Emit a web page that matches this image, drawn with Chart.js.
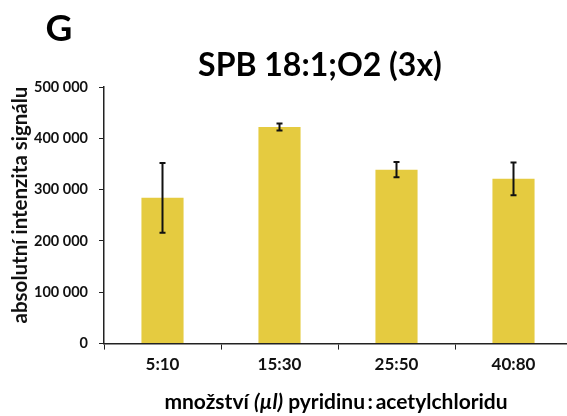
<!DOCTYPE html>
<html>
<head>
<meta charset="utf-8">
<script src="https://cdn.jsdelivr.net/npm/chart.js@4"></script>
<style>
  html, body { margin: 0; padding: 0; background: #fff; overflow: hidden; }
  #wrap { width: 572px; height: 416px; }
</style>
</head>
<body>
<div id="wrap"><canvas id="chart"></canvas></div>
<script>
const categories = ["5:10", "15:30", "25:50", "40:80"];
const values = [284000, 422000, 339000, 321000];
const errors = [68000, 7000, 15000, 32000];
const yTicks = [0, 100000, 200000, 300000, 400000, 500000];

const FONT = "Lato, 'Open Sans', sans-serif";

function fmt(v) {
  return String(v).replace(/\B(?=(\d{3})+(?!\d))/g, " ");
}

// error bars on top of each bar
const errorBars = {
  id: "errorBars",
  afterDatasetsDraw(chart) {
    const ctx = chart.ctx;
    const y = chart.scales.y;
    const meta = chart.getDatasetMeta(0);
    ctx.save();
    ctx.strokeStyle = "#111";
    ctx.lineWidth = 2;
    meta.data.forEach((bar, i) => {
      const top = y.getPixelForValue(values[i] + errors[i]);
      const bot = y.getPixelForValue(values[i] - errors[i]);
      ctx.beginPath();
      ctx.moveTo(bar.x, top);
      ctx.lineTo(bar.x, bot);
      ctx.moveTo(bar.x - 3, top);
      ctx.lineTo(bar.x + 3, top);
      ctx.moveTo(bar.x - 3, bot);
      ctx.lineTo(bar.x + 3, bot);
      ctx.stroke();
    });
    ctx.restore();
  }
};

// panel letter, titles (x title has an italic part)
const texts = {
  id: "texts",
  afterDraw(chart) {
    const ctx = chart.ctx;
    ctx.save();
    ctx.fillStyle = "#000";
    ctx.textBaseline = "middle";

    ctx.font = "bold 37px " + FONT;
    ctx.textAlign = "center";
    ctx.fillText("G", 59, 29);

    ctx.font = "bold 32px " + FONT;
    ctx.fillText("SPB 18:1;O2 (3x)", 320, 66);

    ctx.save();
    ctx.translate(20, 205);
    ctx.rotate(-Math.PI / 2);
    ctx.font = "bold 20.5px " + FONT;
    ctx.fillStyle = "#111";
    ctx.fillText("absolutní intenzita signálu", 0, 0);
    ctx.restore();

    const parts = [
      ["množství ", "bold 21px " + FONT],
      ["(µl)", "italic bold 21px " + FONT],
      [" pyridinu\u2009:\u2009acetylchloridu", "bold 21px " + FONT]
    ];
    let total = 0;
    parts.forEach(p => { ctx.font = p[1]; total += ctx.measureText(p[0]).width; });
    let x = 336 - total / 2;
    ctx.textAlign = "left";
    parts.forEach(p => {
      ctx.font = p[1];
      ctx.fillText(p[0], x, 402);
      x += ctx.measureText(p[0]).width;
    });
    ctx.restore();
  }
};

new Chart(document.getElementById("chart"), {
  type: "bar",
  data: {
    labels: categories,
    datasets: [{
      data: values,
      backgroundColor: "#E5CB40",
      barPercentage: 0.36,
      categoryPercentage: 1
    }]
  },
  options: {
    responsive: true,
    maintainAspectRatio: false,
    animation: false,
    layout: { padding: { top: 87, right: 0, bottom: 36, left: 0 } },
    plugins: {
      legend: { display: false },
      tooltip: { enabled: false }
    },
    scales: {
      x: {
        grid: { display: true, drawOnChartArea: false, color: "#222", tickLength: 6, lineWidth: 1 },
        border: { color: "#222", width: 1.5 },
        ticks: { color: "#111", font: { family: FONT, size: 17, weight: "bold" }, padding: 5 }
      },
      y: {
        min: 0,
        max: 500000,
        afterBuildTicks(axis) { axis.ticks = yTicks.map(v => ({ value: v })); },
        afterFit(axis) { axis.width = 104; },
        grid: { display: true, drawOnChartArea: false, color: "#222", tickLength: 5 },
        border: { color: "#222", width: 1.5 },
        ticks: {
          color: "#111",
          font: { family: FONT, size: 14.5, weight: "bold" },
          padding: 11,
          callback: v => fmt(v)
        }
      }
    }
  },
  plugins: [errorBars, texts]
});
</script>
</body>
</html>
